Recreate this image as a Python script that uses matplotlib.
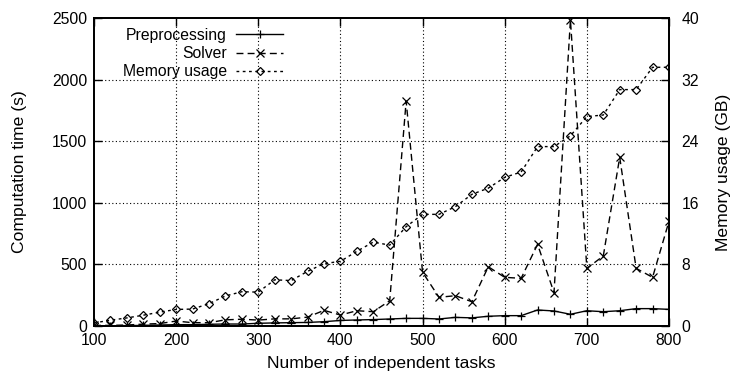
import matplotlib
matplotlib.use("Agg")
import matplotlib.pyplot as plt

plt.rcParams['font.family'] = ['Liberation Sans', 'DejaVu Sans']

tasks = list(range(100, 801, 20))
preprocessing = [1, 2, 3, 5, 8, 11, 11, 14, 16, 16, 22, 25, 27, 29, 35, 45, 49, 52,
                 57, 62, 62, 57, 70, 66, 79, 84, 84, 130, 122, 95, 124, 116, 124, 141, 141, 135]
solver = [5, 5, 8, 15, 20, 40, 27, 27, 50, 55, 48, 58, 58, 72, 127, 89, 124, 116,
          205, 1825, 436, 233, 246, 197, 481, 395, 387, 663, 271, 2484, 468, 568, 1369, 468, 395, 850]
memory = [0.4, 0.75, 1.05, 1.4, 1.8, 2.15, 2.2, 2.9, 3.9, 4.45, 4.4, 6.0, 5.9, 7.1, 8.1, 8.4, 9.7, 10.9,
          10.5, 12.9, 14.5, 14.5, 15.5, 17.1, 17.9, 19.3, 20.0, 23.3, 23.3, 24.7, 27.2, 27.4, 30.7, 30.7, 33.6, 33.6]

x_ticks = [100, 200, 300, 400, 500, 600, 700, 800]
y_ticks = [0, 500, 1000, 1500, 2000, 2500]
y2_ticks = [0, 8, 16, 24, 32, 40]

fs = 11.3
fs_lab = 12.6
fig = plt.figure(figsize=(7.34, 3.74), dpi=100)
ax = fig.add_axes([94/734, 1-326/374, 575/734, 308/374])
ax2 = ax.twinx()

l1, = ax.plot(tasks, preprocessing, color='black', lw=1.0, marker='+', ms=6, mew=0.9,
              label='Preprocessing')
l2, = ax.plot(tasks, solver, color='black', lw=1.0, marker='x', ms=5.5, mew=0.9,
              dashes=(5, 3), label='Solver')
l3, = ax2.plot(tasks, memory, color='black', lw=1.0, marker='D', ms=4, mew=0.9,
               fillstyle='none', dashes=(2, 2.5), label='Memory usage')

ax.set_xlim(100, 800)
ax.set_ylim(0, 2500)
ax2.set_ylim(0, 40)
ax.set_xticks(x_ticks)
ax.set_yticks(y_ticks)
ax2.set_yticks(y2_ticks)

for t in x_ticks[1:-1]:
    ax.axvline(t, color='black', lw=0.8, dashes=(1, 2.2), zorder=0)
for t in y_ticks[1:-1]:
    ax.axhline(t, color='black', lw=0.8, dashes=(1, 2.2), zorder=0)

ax.tick_params(direction='in', length=6, width=1.0, top=True, right=False,
               labelsize=fs, pad=5)
ax2.tick_params(direction='in', length=6, width=1.0, labelsize=fs, pad=9)
for a in (ax, ax2):
    for s in a.spines.values():
        s.set_linewidth(1.3)

ax.set_xlabel('Number of independent tasks', fontsize=fs_lab)
ax.set_ylabel('Computation time (s)', fontsize=fs_lab)
ax2.set_ylabel('Memory usage (GB)', fontsize=fs_lab)
ax.xaxis.set_label_coords(0.5, -0.098)
ax.yaxis.set_label_coords(-0.117, 0.5)
ax2.yaxis.set_label_coords(1.082, 0.5)

leg = ax2.legend([l1, l2, l3], ['Preprocessing', 'Solver', 'Memory usage'],
                 loc='upper left', bbox_to_anchor=(0.05, 0.968), frameon=False,
                 markerfirst=False, handlelength=3.0, handletextpad=0.6,
                 labelspacing=0.2, borderpad=0, borderaxespad=0, numpoints=1,
                 fontsize=fs)

fig.savefig('out.png', dpi=100)
